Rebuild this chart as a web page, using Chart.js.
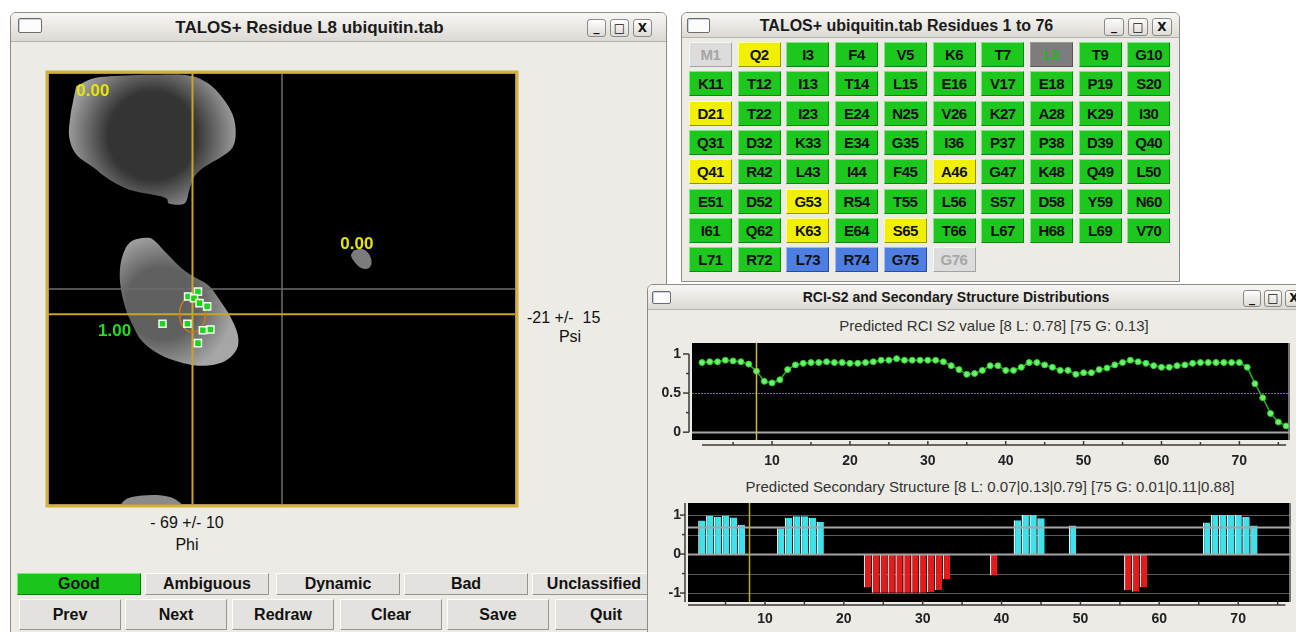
<!DOCTYPE html>
<html>
<head>
<meta charset="utf-8">
<script src="https://cdn.jsdelivr.net/npm/chart.js@4.4.0/dist/chart.umd.min.js"></script>
<style>
  body { margin: 0; width: 1296px; height: 632px; overflow: hidden; background: #fff; position: relative;
         font-family: "Liberation Sans", Arial, sans-serif; }
  .win { position: absolute; background: #edebe6; border: 1px solid #8e8c88; border-radius: 6px 6px 0 0; overflow: hidden; }
  .tbar { position: absolute; left: 0; right: 0; top: 0; background: linear-gradient(#f7f6f3, #dcdad5);
          border-bottom: 1px solid #b4b2ac; font-weight: bold; color: #1a1a1a; text-align: center; box-sizing: border-box; }
  .ico { position: absolute; background: #fcfcfc; border: 1px solid #6c6c6c; border-radius: 2px; box-shadow: inset 1px 1px 0 #c9d3e2; }
  .wb { position: absolute; box-sizing: border-box; border: 1px solid #8c8a86; border-radius: 3px;
        background: linear-gradient(#fefefd, #dddbd6); font: bold 12px "DejaVu Sans", sans-serif; text-align: center; color: #111; }
  .txt { position: absolute; font-size: 16px; line-height: 18px; color: #111; white-space: pre; text-align: center; }
  .btn { position: absolute; box-sizing: border-box; background: #e4e2de; border: 1px solid; border-color: #fdfdfd #96948e #96948e #fdfdfd;
         font-weight: bold; font-size: 16px; color: #111; text-align: center; }
  .btn.on { background: #19c619; border-color: #78e878 #0b7a0b #0b7a0b #78e878; }
  .res { position: absolute; width: 43px; height: 25px; box-sizing: border-box; border: 1px solid; font-weight: bold; font-size: 15px;
         line-height: 23px; text-align: center; color: #111; letter-spacing: -0.5px; }
  .res.g { background: #1ec71e; border-color: #7ee87e #0d870d #0d870d #7ee87e; }
  .res.a { background: #f0f000; border-color: #ffff9c #959500 #959500 #ffff9c; }
  .res.d { background: #4d7fe3; border-color: #a0bcf4 #2a4c9c #2a4c9c #a0bcf4; }
  .res.n { background: #dcdcdc; border-color: #f6f6f6 #a2a2a2 #a2a2a2 #f6f6f6; color: #a6a6a6; }
  .res.sel { background: #7d7d7d; border-color: #9a9a9a #555 #555 #9a9a9a; color: #2fae2f; }
  .ptitle { position: absolute; width: 600px; font-size: 15px; line-height: 18px; color: #333; text-align: center; }
  canvas { position: absolute; }
</style>
</head>
<body>

<!-- Fenêtre 1 : carte de Ramachandran du résidu -->
<div class="win" style="left:10px;top:12px;width:655px;height:628px;z-index:1">
  <div class="tbar" style="height:29px;line-height:29px;font-size:17px;padding-right:58px">TALOS+ Residue L8 ubiquitin.tab</div>
  <div class="ico" style="left:7px;top:5px;width:22px;height:13px"></div>
  <div class="wb" style="left:576px;top:6px;width:19px;height:18px;line-height:15px">_</div>
  <div class="wb" style="left:599px;top:6px;width:19px;height:18px;line-height:16px">□</div>
  <div class="wb" style="left:622px;top:6px;width:19px;height:18px;line-height:16px">X</div>
  <canvas id="rama" width="480" height="444" style="left:31px;top:54px"></canvas>
  <div class="txt" style="left:516px;top:296px;text-align:left">-21 +/-  15</div>
  <div class="txt" style="left:529px;top:315px;width:60px">Psi</div>
  <div class="txt" style="left:126px;top:501px;width:100px">- 69 +/- 10</div>
  <div class="txt" style="left:126px;top:523px;width:100px">Phi</div>
  <div id="classBtns"></div>
  <div id="navBtns"></div>
</div>

<!-- Fenêtre 2 : grille des résidus -->
<div class="win" id="gridWin" style="left:681px;top:12px;width:497px;height:268px;z-index:2">
  <div class="tbar" style="height:25px;line-height:25px;font-size:16px;padding-right:48px">TALOS+ ubiquitin.tab Residues 1 to 76</div>
  <div class="ico" style="left:5px;top:5px;width:21px;height:13px"></div>
  <div class="wb" style="left:422px;top:5px;width:20px;height:18px;line-height:15px">_</div>
  <div class="wb" style="left:446px;top:5px;width:20px;height:18px;line-height:16px">□</div>
  <div class="wb" style="left:470px;top:5px;width:20px;height:18px;line-height:16px">X</div>
</div>

<!-- Fenêtre 3 : RCI-S2 et structure secondaire -->
<div class="win" style="left:647px;top:284px;width:670px;height:360px;z-index:3">
  <div class="tbar" style="height:25px;line-height:25px;font-size:14px;padding-right:54px">RCI-S2 and Secondary Structure Distributions</div>
  <div class="ico" style="left:4px;top:6px;width:17px;height:11px"></div>
  <div class="wb" style="left:595px;top:5px;width:18px;height:17px;line-height:14px">_</div>
  <div class="wb" style="left:616px;top:5px;width:18px;height:17px;line-height:15px">□</div>
  <div class="wb" style="left:637px;top:5px;width:18px;height:17px;line-height:15px">X</div>
  <div class="ptitle" style="left:46px;top:32px">Predicted RCI S2 value [8 L: 0.78] [75 G: 0.13]</div>
  <canvas id="rci" width="648" height="145" style="left:0;top:45px"></canvas>
  <div class="ptitle" style="left:42px;top:193px">Predicted Secondary Structure [8 L: 0.07|0.13|0.79] [75 G: 0.01|0.11|0.88]</div>
  <canvas id="ss" width="648" height="137" style="left:0;top:210px"></canvas>
</div>

<script>
// ---------- données ----------
const SEQUENCE = 'MQIFVKTLTGKTITLEVEPSDTIENVKAKIQDKEGIPPDQQRLIFAGKQLEDGRTLSDYNIQKESTLHLVLRLRGG'.split('');
// g = Good, a = Ambiguous, d = Dynamic, n = sans prédiction
const STATUS = ('nagggggggg' + 'gggggggggg' + 'aggggggggg' + 'gggggggggg' +
                'aggggagggg' + 'ggaggggggg' + 'ggagaggggg' + 'ggdddn').split('');
const SELECTED = 8;

const RCI_S2 = [
  0.89, 0.90, 0.90, 0.92, 0.91, 0.90, 0.87, 0.78, 0.65, 0.63,
  0.67, 0.80, 0.86, 0.88, 0.89, 0.89, 0.90, 0.89, 0.89, 0.88,
  0.88, 0.89, 0.90, 0.92, 0.92, 0.94, 0.92, 0.92, 0.92, 0.92,
  0.92, 0.90, 0.85, 0.80, 0.74, 0.75, 0.79, 0.85, 0.85, 0.79,
  0.79, 0.83, 0.89, 0.89, 0.86, 0.83, 0.79, 0.79, 0.74, 0.76,
  0.76, 0.80, 0.82, 0.86, 0.89, 0.92, 0.90, 0.88, 0.85, 0.83,
  0.83, 0.85, 0.86, 0.88, 0.89, 0.89, 0.89, 0.89, 0.89, 0.89,
  0.83, 0.62, 0.44, 0.24, 0.13, 0.08
];

// probabilité brin (cyan, vers le haut) et hélice (rouge, vers le bas)
const SS_STRAND = [
  null, 0.86, 0.99, 0.95, 0.99, 0.94, 0.75, null, null, null,
  null, 0.66, 0.93, 0.97, 0.97, 0.93, 0.83, null, null, null,
  null, null, null, null, null, null, null, null, null, null,
  null, null, null, null, null, null, null, null, null, null,
  null, 0.87, 1.00, 1.00, 0.92, null, null, null, 0.73, null,
  null, null, null, null, null, null, null, null, null, null,
  null, null, null, null, null, 0.81, 1.00, 1.00, 1.00, 1.00,
  0.95, 0.73, null, null, null, null
];
const SS_HELIX = [
  null, null, null, null, null, null, null, null, null, null,
  null, null, null, null, null, null, null, null, null, null,
  null, null, 0.86, 0.99, 0.99, 0.99, 0.99, 0.99, 0.99, 0.99,
  0.98, 0.93, 0.64, null, null, null, null, null, 0.55, null,
  null, null, null, null, null, null, null, null, null, null,
  null, null, null, null, null, 0.92, 0.97, 0.85, null, null,
  null, null, null, null, null, null, null, null, null, null,
  null, null, null, null, null, null
];

const RCI_X_TICKS = [10, 20, 30, 40, 50, 60, 70];
const RCI_Y_TICKS = [0, 0.5, 1];
const SS_X_TICKS = [10, 20, 30, 40, 50, 60, 70];
const SS_Y_TICKS = [-1, 0, 1];
const SS_LINES_BACK = [1, 0.5, -0.5, -1];
const SS_LINES_FRONT = [0.69, 0];

// carte phi/psi : zones de densité (contours [phi, psi])
const BETA_REGION = [[-158.7,169.3],[-145.8,175.9],[-128.4,178],[-94.9,179],[-69.9,178],[-57,171.8],[-45.6,159.4],
  [-38,145.5],[-35.7,130.7],[-38,118.4],[-47.1,110.1],[-60,101.9],[-67.6,93.7],[-71.4,83],[-75.2,71.5],[-87.3,71.5],
  [-88.9,75.6],[-100.3,78.9],[-117.7,83],[-132.9,91.2],[-145.8,101.9],[-158.7,112.6],[-164,126.6],[-163.3,143],[-161,157]];
const ALPHA_REGION = [[-107.8,42.7],[-100.3,41.9],[-91.1,32.1],[-79.7,19.7],[-69.9,11.5],[-57,3.3],[-47.1,-10.7],
  [-39.5,-23.8],[-34.2,-37.8],[-34.2,-48.5],[-39.5,-56.7],[-49.4,-62.5],[-64.6,-64.1],[-79.7,-60.8],[-94.9,-54.2],
  [-107.8,-43.6],[-115.4,-29.6],[-120.8,-15.6],[-124.6,3.3],[-124.6,19.7],[-120.8,33.7],[-115.4,40.3]];
const LEFT_REGION = [[55.4,32.1],[61.5,33.7],[66.8,29.6],[69.1,22.2],[66.8,17.3],[61.5,17.3],[56.2,22.2],[53.2,27.9]];
const BETA_WRAP = [[-125.3,-181],[-119.2,-175],[-107.8,-172.4],[-92.6,-172.4],[-83.5,-175],[-77.4,-181]];

// les 10 meilleurs appariements de la base
const MATCH_PHI = [-64.8, -72.4, -67.8, -63.6, -57.7, -92.1, -72.9, -61.0, -55.2, -64.8];
const MATCH_PSI = [-2.2, -6.3, -7.7, -11.8, -14.5, -29.0, -29.0, -34.5, -33.9, -45.2];
const PRED_PHI = -69, PRED_PHI_SD = 10;
const PRED_PSI = -21, PRED_PSI_SD = 15;

const REGION_LABELS = [
  { text: '0.00', phi: -145.8, psi: 165.5, color: '#e6e600' },
  { text: '0.00', phi: 57.7, psi: 37.5, color: '#e6e600' },
  { text: '1.00', phi: -129, psi: -35, color: '#22dd22' }
];

const CLASS_BUTTONS = ['Good', 'Ambiguous', 'Dynamic', 'Bad', 'Unclassified'];
const NAV_BUTTONS = ['Prev', 'Next', 'Redraw', 'Clear', 'Save', 'Quit'];

// ---------- boutons ----------
const RESNUM = SEQUENCE.map((aa, i) => i + 1);

const gridWin = document.getElementById('gridWin');
SEQUENCE.forEach((aa, i) => {
  const el = document.createElement('div');
  el.className = 'res ' + (RESNUM[i] === SELECTED ? 'sel' : STATUS[i]);
  el.style.left = (7 + (i % 10) * 48.7) + 'px';
  el.style.top = (29 + Math.floor(i / 10) * 29.3) + 'px';
  el.textContent = aa + RESNUM[i];
  gridWin.appendChild(el);
});

const classLeft = [6, 134, 265, 393, 521];
CLASS_BUTTONS.forEach((name, i) => {
  const el = document.createElement('div');
  el.className = 'btn' + (i === 0 ? ' on' : '');
  Object.assign(el.style, { left: classLeft[i] + 'px', top: '560px', width: '124px', height: '22px', lineHeight: '20px' });
  el.textContent = name;
  document.getElementById('classBtns').appendChild(el);
});
const navLeft = [8, 114, 221, 329, 436, 544];
NAV_BUTTONS.forEach((name, i) => {
  const el = document.createElement('div');
  el.className = 'btn';
  Object.assign(el.style, { left: navLeft[i] + 'px', top: '586px', width: '102px', height: '31px', lineHeight: '29px' });
  el.textContent = name;
  document.getElementById('navBtns').appendChild(el);
});

// ---------- carte de Ramachandran ----------
function toXY(list) {
  const pts = list.map(p => ({ x: p[0], y: p[1] }));
  pts.push(pts[0]);
  return pts;
}

function radialFill(phi, psi, r, inner, outer) {
  return ctx => {
    const chart = ctx.chart;
    if (!chart.chartArea) return outer;
    const px = chart.scales.x.getPixelForValue(phi);
    const py = chart.scales.y.getPixelForValue(psi);
    const g = chart.ctx.createRadialGradient(px, py, 0, px, py, r);
    g.addColorStop(0, inner);
    g.addColorStop(0.5, inner);
    g.addColorStop(1, outer);
    return g;
  };
}

function region(list, fillColor) {
  return { type: 'line', data: toXY(list), fill: 'shape', backgroundColor: fillColor, borderColor: 'rgba(0,0,0,0)',
           borderWidth: 0, pointRadius: 0, tension: 0.35, order: 4 };
}

function straight(a, b, color, width, order) {
  return { type: 'line', data: [a, b], borderColor: color, borderWidth: width, pointRadius: 0, fill: false, order };
}

const ramaDecor = {
  id: 'ramaDecor',
  beforeDatasetsDraw(chart) {
    const { ctx, chartArea: a } = chart;
    ctx.save();
    ctx.fillStyle = '#000';
    ctx.fillRect(a.left, a.top, a.right - a.left, a.bottom - a.top);
    ctx.restore();
  },
  afterDatasetDraw(chart, args) {
    if (args.index !== 1) return;
    const { ctx, scales: { x, y } } = chart;
    const cx = x.getPixelForValue(PRED_PHI), cy = y.getPixelForValue(PRED_PSI);
    const rx = Math.abs(x.getPixelForValue(PRED_PHI + PRED_PHI_SD) - cx);
    const ry = Math.abs(y.getPixelForValue(PRED_PSI + PRED_PSI_SD) - cy);
    ctx.save();
    ctx.strokeStyle = '#c87a1e';
    ctx.lineWidth = 1.5;
    ctx.beginPath();
    ctx.ellipse(cx, cy, rx, ry, 0, 0, Math.PI * 2);
    ctx.stroke();
    ctx.restore();
  },
  afterDatasetsDraw(chart) {
    const { ctx, chartArea: a, scales: { x, y } } = chart;
    ctx.save();
    ctx.font = 'bold 17px "Liberation Sans", Arial, sans-serif';
    ctx.textAlign = 'center';
    ctx.textBaseline = 'middle';
    REGION_LABELS.forEach(l => {
      ctx.fillStyle = l.color;
      ctx.fillText(l.text, x.getPixelForValue(l.phi), y.getPixelForValue(l.psi));
    });
    ctx.strokeStyle = '#d4b23a';
    ctx.lineWidth = 3;
    ctx.strokeRect(a.left - 1.5, a.top - 1.5, a.right - a.left + 3, a.bottom - a.top + 3);
    ctx.restore();
  }
};

new Chart(document.getElementById('rama'), {
  type: 'scatter',
  data: {
    datasets: [
      { data: MATCH_PHI.map((p, i) => ({ x: p, y: MATCH_PSI[i] })), pointStyle: 'rect', pointRadius: 5,
        backgroundColor: '#1ed21e', borderColor: '#f2fff2', borderWidth: 1.5, order: 0 },
      straight({ x: PRED_PHI, y: -180 }, { x: PRED_PHI, y: 180 }, '#c9a526', 2, 2),
      straight({ x: -180, y: PRED_PSI }, { x: 180, y: PRED_PSI }, '#c9a526', 2, 2),
      straight({ x: 0, y: -180 }, { x: 0, y: 180 }, '#6c6c6c', 1.5, 3),
      straight({ x: -180, y: 0 }, { x: 180, y: 0 }, '#6c6c6c', 1.5, 3),
      region(BETA_REGION, radialFill(-100, 128, 88, '#343434', '#a6a6a6')),
      region(ALPHA_REGION, radialFill(-92, -12, 72, '#606060', '#a6a6a6')),
      region(LEFT_REGION, '#7c7c7c'),
      region(BETA_WRAP, '#8a8a8a')
    ]
  },
  options: {
    responsive: false, animation: false, events: [],
    layout: { padding: 3 },
    plugins: { legend: { display: false }, tooltip: { enabled: false } },
    scales: {
      x: { type: 'linear', min: -180, max: 180, display: false },
      y: { type: 'linear', min: -180, max: 180, display: false }
    }
  },
  plugins: [ramaDecor]
});

// ---------- axes décalés des deux graphiques du bas ----------
function offsetAxes(opt) {
  return {
    id: 'offsetAxes',
    beforeDatasetsDraw(chart) {
      const { ctx, chartArea: a, scales: { x, y } } = chart;
      ctx.save();
      ctx.fillStyle = '#000';
      ctx.fillRect(a.left, a.top, a.right - a.left, a.bottom - a.top);
      (opt.backLines || []).forEach(l => {
        const py = Math.round(y.getPixelForValue(l.v)) + 0.5;
        ctx.strokeStyle = l.color; ctx.lineWidth = l.w; ctx.setLineDash(l.dash || []);
        ctx.beginPath(); ctx.moveTo(a.left, py); ctx.lineTo(a.right, py); ctx.stroke();
      });
      ctx.setLineDash([]);
      ctx.restore();
    },
    afterDatasetsDraw(chart) {
      const { ctx, chartArea: a, scales: { x, y } } = chart;
      ctx.save();
      (opt.frontLines || []).forEach(l => {
        const py = Math.round(y.getPixelForValue(l.v)) + 0.5;
        ctx.strokeStyle = l.color; ctx.lineWidth = l.w;
        ctx.beginPath(); ctx.moveTo(a.left, py); ctx.lineTo(a.right, py); ctx.stroke();
      });
      if (opt.selLine) {
        const px = Math.round(x.getPixelForValue(SELECTED)) + 0.5;
        ctx.strokeStyle = opt.selLine; ctx.lineWidth = 1.5;
        ctx.beginPath(); ctx.moveTo(px, a.top); ctx.lineTo(px, a.bottom); ctx.stroke();
      }
      ctx.strokeStyle = '#9a9a9a'; ctx.lineWidth = 1.5;
      ctx.beginPath(); ctx.moveTo(a.right - 1, a.top); ctx.lineTo(a.right - 1, a.bottom); ctx.stroke();
      ctx.restore();
    },
    afterDraw(chart) {
      const { ctx, chartArea: a, scales: { x, y } } = chart;
      ctx.save();
      ctx.strokeStyle = '#3a3a3a'; ctx.lineWidth = 1.5;
      // axe horizontal sous la zone noire
      const ay = a.bottom + opt.xGap;
      ctx.beginPath();
      ctx.moveTo(opt.xFrom != null ? x.getPixelForValue(opt.xFrom) : a.left, ay);
      ctx.lineTo(x.getPixelForValue(RESNUM[RESNUM.length - 1]), ay);
      ctx.stroke();
      for (let r = 5; r <= 75; r += 5) {
        const px = x.getPixelForValue(r);
        ctx.beginPath(); ctx.moveTo(px, ay); ctx.lineTo(px, ay - (r % 10 === 0 ? 4 : 3)); ctx.stroke();
      }
      // axe vertical à gauche
      const ax = a.left - opt.yGap;
      ctx.beginPath();
      ctx.moveTo(ax, y.getPixelForValue(opt.yFrom)); ctx.lineTo(ax, y.getPixelForValue(opt.yTo));
      ctx.stroke();
      opt.yMarks.forEach(m => {
        const py = y.getPixelForValue(m.v);
        ctx.beginPath(); ctx.moveTo(ax, py); ctx.lineTo(ax - m.len, py); ctx.stroke();
      });
      ctx.restore();
    }
  };
}

const tickFont = { family: '"Liberation Sans", Arial, sans-serif', size: 14, weight: 'bold' };
// taille fixe des axes, sans marge ajoutée par les étiquettes
const fixSize = (w, h) => s => {
  if (w != null) s.width = w;
  if (h != null) s.height = h;
  s.paddingTop = 0; s.paddingBottom = 0; s.paddingLeft = 0; s.paddingRight = 0;
};

// ---------- RCI S2 ----------
new Chart(document.getElementById('rci'), {
  type: 'line',
  data: {
    datasets: [{
      data: RESNUM.map((r, i) => ({ x: r, y: RCI_S2[i] })),
      borderColor: '#24b424', borderWidth: 1.5, tension: 0,
      pointRadius: 3, pointBackgroundColor: '#6cf26c', pointBorderColor: '#2cc82c', pointBorderWidth: 1
    }]
  },
  options: {
    responsive: false, animation: false, events: [],
    layout: { padding: { left: 0, right: 6, top: 13, bottom: 0 } },
    plugins: { legend: { display: false }, tooltip: { enabled: false } },
    scales: {
      x: {
        type: 'linear', min: -0.28, max: 76.5,
        grid: { display: false, drawTicks: false }, border: { display: false },
        afterBuildTicks: s => { s.ticks = RCI_X_TICKS.map(v => ({ value: v })); },
        afterFit: fixSize(null, 35),
        ticks: { padding: 13, font: tickFont, color: '#222', maxRotation: 0 }
      },
      y: {
        min: -0.1, max: 1.14,
        grid: { display: false, drawTicks: false }, border: { display: false },
        afterBuildTicks: s => { s.ticks = RCI_Y_TICKS.map(v => ({ value: v })); },
        afterFit: fixSize(44, null),
        ticks: { padding: 11, font: tickFont, color: '#222', callback: v => String(v) }
      }
    }
  },
  plugins: [offsetAxes({
    backLines: [{ v: 0.5, color: '#7c7a00', w: 1, dash: [2, 1] }, { v: 0, color: '#a8a8a8', w: 2 }],
    selLine: '#c8be3c',
    xGap: 5, xFrom: 1, yGap: 3, yFrom: 1, yTo: 0,
    yMarks: [{ v: 0, len: 6 }, { v: 0.25, len: 3 }, { v: 0.5, len: 6 }, { v: 0.75, len: 3 }, { v: 1, len: 6 }]
  })]
});

// ---------- structure secondaire ----------
const barStyle = { borderWidth: { left: 1.5, right: 0, top: 0, bottom: 0 }, borderSkipped: false,
                   barPercentage: 0.94, categoryPercentage: 1, grouped: false };
new Chart(document.getElementById('ss'), {
  type: 'bar',
  data: {
    datasets: [
      Object.assign({ data: RESNUM.map((r, i) => ({ x: r, y: SS_STRAND[i] })),
                      backgroundColor: '#3ee2ea', borderColor: '#e2fdff' }, barStyle),
      Object.assign({ data: RESNUM.map((r, i) => ({ x: r, y: SS_HELIX[i] == null ? null : -SS_HELIX[i] })),
                      backgroundColor: '#e61a1a', borderColor: '#ffdede' }, barStyle)
    ]
  },
  options: {
    responsive: false, animation: false, events: [],
    layout: { padding: { left: 0, right: 5, top: 8, bottom: 0 } },
    plugins: { legend: { display: false }, tooltip: { enabled: false } },
    scales: {
      x: {
        type: 'linear', min: 0.24, max: 76.7, offset: false,
        grid: { display: false, drawTicks: false }, border: { display: false },
        afterBuildTicks: s => { s.ticks = SS_X_TICKS.map(v => ({ value: v })); },
        afterFit: fixSize(null, 30),
        ticks: { padding: 9, font: tickFont, color: '#222', maxRotation: 0 }
      },
      y: {
        min: -1.23, max: 1.31,
        grid: { display: false, drawTicks: false }, border: { display: false },
        afterBuildTicks: s => { s.ticks = SS_Y_TICKS.map(v => ({ value: v })); },
        afterFit: fixSize(40, null),
        ticks: { padding: 7, font: tickFont, color: '#222', callback: v => String(v) }
      }
    }
  },
  plugins: [offsetAxes({
    backLines: SS_LINES_BACK.map(v => ({ v, color: '#5a5a5a', w: 1 })),
    frontLines: SS_LINES_FRONT.map(v => ({ v, color: '#a6a6a6', w: 2 })),
    selLine: '#b8b028',
    xGap: 3, xFrom: null, yGap: 3, yFrom: 1.31, yTo: -1.23,
    yMarks: [{ v: 1, len: 5 }, { v: 0.5, len: 3 }, { v: 0, len: 5 }, { v: -0.5, len: 3 }, { v: -1, len: 5 }]
  })]
});
</script>
</body>
</html>
